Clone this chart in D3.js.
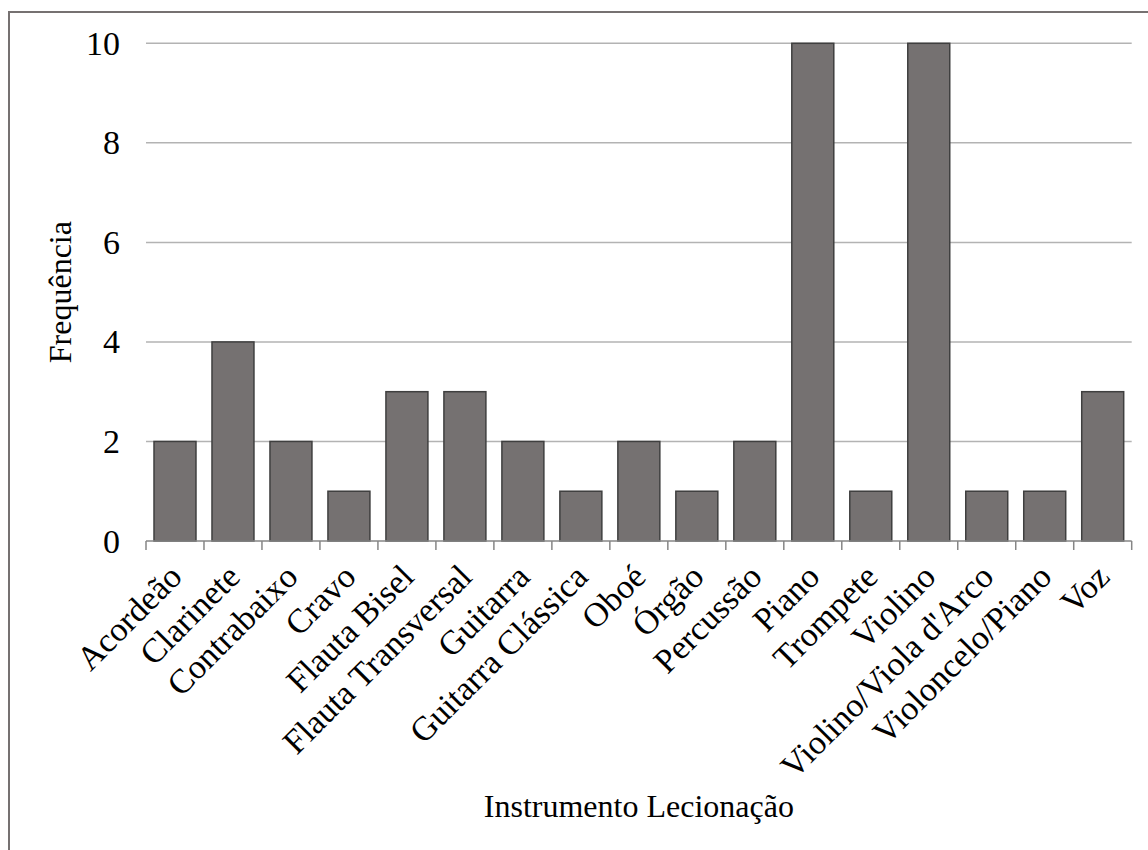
<!DOCTYPE html>
<html>
<head>
<meta charset="utf-8">
<script src="https://cdn.jsdelivr.net/npm/d3@7/dist/d3.min.js"></script>
<style>
  html, body { margin: 0; padding: 0; background: #fff; }
  svg { display: block; }
  text { font-family: "Liberation Serif", "Times New Roman", serif; fill: #000; }
</style>
</head>
<body>
<script>
// Instrumentos lecionados e respetiva frequência
const categories = [
  "Acordeão", "Clarinete", "Contrabaixo", "Cravo", "Flauta Bisel",
  "Flauta Transversal", "Guitarra", "Guitarra Clássica", "Oboé", "Órgão",
  "Percussão", "Piano", "Trompete", "Violino", "Violino/Viola d'Arco",
  "Violoncelo/Piano", "Voz"
];
const frequencies = [2, 4, 2, 1, 3, 3, 2, 1, 2, 1, 2, 10, 1, 10, 1, 1, 3];
const yTicks = [0, 2, 4, 6, 8, 10];
const xTitle = "Instrumento Lecionação";
const yTitle = "Frequência";

const W = 1148, H = 850;
const plot = { left: 146, right: 1131.7, top: 43.3, bottom: 541 };
const tickFont = 34;

const svg = d3.select("body").append("svg")
  .attr("width", W).attr("height", H);

// outer chart frame
svg.append("rect")
  .attr("x", 9).attr("y", 12)
  .attr("width", W + 20).attr("height", H + 20)
  .attr("fill", "none")
  .attr("stroke", "#767171")
  .attr("stroke-width", 2);

const x = d3.scaleBand()
  .domain(categories)
  .range([plot.left, plot.right])
  .paddingInner(0.276)
  .paddingOuter(0.138);

const y = d3.scaleLinear()
  .domain([0, 10])
  .range([plot.bottom, plot.top]);

// horizontal gridlines
svg.append("g")
  .selectAll("line")
  .data(yTicks.filter(d => d > 0))
  .join("line")
  .attr("x1", plot.left).attr("x2", plot.right)
  .attr("y1", d => y(d)).attr("y2", d => y(d))
  .attr("stroke", "#b3b3b3")
  .attr("stroke-width", 1.5);

// y tick labels
svg.append("g")
  .selectAll("text")
  .data(yTicks)
  .join("text")
  .attr("x", 120)
  .attr("y", d => y(d))
  .attr("dy", "0.34em")
  .attr("text-anchor", "end")
  .attr("font-size", tickFont)
  .text(d => d);

// bars
svg.append("g")
  .selectAll("rect")
  .data(categories.map((c, i) => ({ c, v: frequencies[i] })))
  .join("rect")
  .attr("x", d => x(d.c))
  .attr("y", d => y(d.v))
  .attr("width", x.bandwidth())
  .attr("height", d => y(0) - y(d.v))
  .attr("fill", "#757171")
  .attr("stroke", "#3f3f3f")
  .attr("stroke-width", 1.5);

// x axis with ticks between categories
const xAxis = svg.append("g");
xAxis.append("line")
  .attr("x1", plot.left).attr("x2", plot.right)
  .attr("y1", plot.bottom).attr("y2", plot.bottom)
  .attr("stroke", "#868686").attr("stroke-width", 1.5);
const step = x.step();
xAxis.selectAll("line.tick")
  .data(d3.range(categories.length + 1))
  .join("line")
  .attr("class", "tick")
  .attr("x1", i => plot.left + i * step)
  .attr("x2", i => plot.left + i * step)
  .attr("y1", plot.bottom).attr("y2", plot.bottom + 9)
  .attr("stroke", "#868686").attr("stroke-width", 1.5);

// rotated category labels
xAxis.selectAll("text")
  .data(categories)
  .join("text")
  .attr("text-anchor", "end")
  .attr("font-size", tickFont)
  .attr("transform", d => {
    const cx = x(d) + x.bandwidth() / 2 - 8;
    const cy = plot.bottom + 21;
    return `translate(${cx},${cy}) rotate(-45)`;
  })
  .attr("dy", "0.7em")
  .text(d => d);

// axis titles
svg.append("text")
  .attr("x", (plot.left + plot.right) / 2)
  .attr("y", 817)
  .attr("text-anchor", "middle")
  .attr("font-size", 32)
  .text(xTitle);

svg.append("text")
  .attr("transform", `translate(60,${(plot.top + plot.bottom) / 2}) rotate(-90)`)
  .attr("text-anchor", "middle")
  .attr("dy", "0.35em")
  .attr("font-size", 32)
  .text(yTitle);
</script>
</body>
</html>
